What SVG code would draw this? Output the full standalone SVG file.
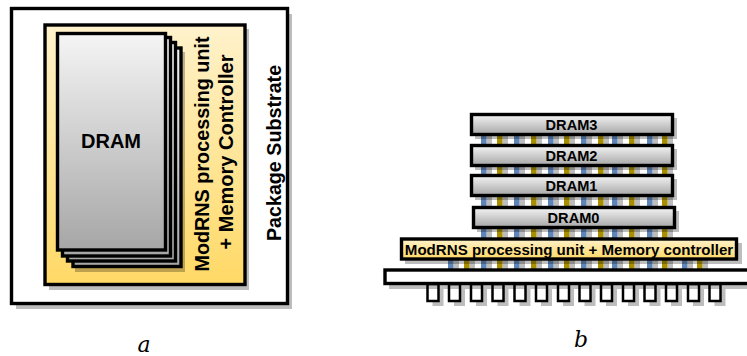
<svg xmlns="http://www.w3.org/2000/svg" width="747" height="356" viewBox="0 0 747 356">
<style>
.box{stroke:#000;stroke-width:3.4}
.s{fill:#000;fill-opacity:.26}
.gray{fill:url(#g)}
.yel{fill:url(#y)}
.w{fill:#fff}
.t{font-family:"Liberation Sans",Arial,sans-serif;font-weight:700;fill:#000;text-anchor:middle}
.m{font-family:"DejaVu Serif","Liberation Serif",serif;font-style:italic;font-size:22px;fill:#000;text-anchor:middle}
.bl{fill:#5f84b8}
.go{fill:#a88f00}
.pin{fill:#fff;stroke:#000;stroke-width:2.500}
</style>
<defs>
<linearGradient id="g" x1="0" y1="0" x2="0" y2="1"><stop offset="0" stop-color="#f5f5f5"/><stop offset="1" stop-color="#a6a6a6"/></linearGradient>
<linearGradient id="y" x1="0" y1="0" x2="0" y2="1"><stop offset="0" stop-color="#fff2cc"/><stop offset="1" stop-color="#ffd966"/></linearGradient>
<g id="p"><rect x="5.500" y="0" width="5.500" height="9" class="s"/><rect x="0" y="0" width="5.500" height="9"/></g>
<rect id="pin" x="0" y="0" width="11" height="17" class="pin"/>
</defs>
<g id="package-a">
<rect x="16" y="14" width="276" height="295" class="s"/>
<rect x="11.500" y="8.500" width="276" height="295" class="w box"/>
<text class="t" font-size="19.700" transform="translate(280.500,153) rotate(-90)">Package Substrate</text>
</g>
<g id="logic-a">
<rect x="49" y="29" width="200" height="261" class="s"/>
<rect x="45" y="25" width="200" height="259.500" class="yel box"/>
<text class="t" font-size="19.800" transform="translate(208.500,154) rotate(-90)">ModRNS processing unit</text>
<text class="t" font-size="20" transform="translate(233,152) rotate(-90)">+ Memory Controller</text>
</g>
<g id="dram-a">
<rect x="75" y="52" width="110" height="220" class="s"/>
<rect x="73" y="48" width="108" height="218.500" class="gray box"/>
<rect x="67.500" y="42.500" width="108" height="218.500" class="gray box"/>
<rect x="62.500" y="37.500" width="108" height="218.500" class="gray box"/>
<rect x="57.500" y="33.500" width="108" height="216.500" class="gray box"/>
<text class="t" font-size="20" x="111" y="148">DRAM</text>
</g>
<g id="connectors">
<use href="#p" x="481" y="136" class="bl"/><use href="#p" x="497" y="136" class="go"/><use href="#p" x="514" y="136" class="bl"/><use href="#p" x="531" y="136" class="go"/><use href="#p" x="548" y="136" class="bl"/><use href="#p" x="564" y="136" class="go"/><use href="#p" x="581" y="136" class="bl"/><use href="#p" x="598" y="136" class="go"/><use href="#p" x="612" y="136" class="bl"/><use href="#p" x="629" y="136" class="go"/><use href="#p" x="647" y="136" class="bl"/><use href="#p" x="662" y="136" class="go"/>
<use href="#p" x="481" y="166" class="bl"/><use href="#p" x="497" y="166" class="go"/><use href="#p" x="514" y="166" class="bl"/><use href="#p" x="531" y="166" class="go"/><use href="#p" x="548" y="166" class="bl"/><use href="#p" x="564" y="166" class="go"/><use href="#p" x="581" y="166" class="bl"/><use href="#p" x="598" y="166" class="go"/><use href="#p" x="612" y="166" class="bl"/><use href="#p" x="629" y="166" class="go"/><use href="#p" x="647" y="166" class="bl"/><use href="#p" x="662" y="166" class="go"/>
<use href="#p" x="481" y="197" class="bl"/><use href="#p" x="497" y="197" class="go"/><use href="#p" x="514" y="197" class="bl"/><use href="#p" x="531" y="197" class="go"/><use href="#p" x="548" y="197" class="bl"/><use href="#p" x="564" y="197" class="go"/><use href="#p" x="581" y="197" class="bl"/><use href="#p" x="598" y="197" class="go"/><use href="#p" x="612" y="197" class="bl"/><use href="#p" x="629" y="197" class="go"/><use href="#p" x="647" y="197" class="bl"/><use href="#p" x="662" y="197" class="go"/>
<use href="#p" x="481" y="229" class="bl"/><use href="#p" x="497" y="229" class="go"/><use href="#p" x="514" y="229" class="bl"/><use href="#p" x="531" y="229" class="go"/><use href="#p" x="548" y="229" class="bl"/><use href="#p" x="564" y="229" class="go"/><use href="#p" x="581" y="229" class="bl"/><use href="#p" x="598" y="229" class="go"/><use href="#p" x="612" y="229" class="bl"/><use href="#p" x="629" y="229" class="go"/><use href="#p" x="647" y="229" class="bl"/><use href="#p" x="662" y="229" class="go"/>
<use href="#p" x="448" y="260" class="bl"/><use href="#p" x="464" y="260" class="go"/><use href="#p" x="481" y="260" class="bl"/><use href="#p" x="497" y="260" class="go"/><use href="#p" x="514" y="260" class="bl"/><use href="#p" x="531" y="260" class="go"/><use href="#p" x="548" y="260" class="bl"/><use href="#p" x="564" y="260" class="go"/><use href="#p" x="581" y="260" class="bl"/><use href="#p" x="598" y="260" class="go"/><use href="#p" x="612" y="260" class="bl"/><use href="#p" x="629" y="260" class="go"/><use href="#p" x="647" y="260" class="bl"/><use href="#p" x="662" y="260" class="go"/><use href="#p" x="682" y="260" class="bl"/><use href="#p" x="697" y="260" class="go"/>
</g>
<g id="dram3"><rect x="475" y="118" width="202" height="21" class="s"/><rect x="471.500" y="114.500" width="201" height="20" class="gray box"/><text class="t" font-size="14.600" x="571.500" y="129.500">DRAM3</text></g>
<g id="dram2"><rect x="475" y="149" width="202" height="21" class="s"/><rect x="471.500" y="145.500" width="201" height="20" class="gray box"/><text class="t" font-size="14.600" x="571.500" y="160.500">DRAM2</text></g>
<g id="dram1"><rect x="475" y="179" width="202" height="21" class="s"/><rect x="471.500" y="175.500" width="201" height="20" class="gray box"/><text class="t" font-size="14.600" x="571.500" y="190.500">DRAM1</text></g>
<g id="dram0"><rect x="477" y="211" width="202" height="21" class="s"/><rect x="473.500" y="207.500" width="201" height="20" class="gray box"/><text class="t" font-size="14.600" x="573.500" y="222.500">DRAM0</text></g>
<g id="logic-b"><rect x="405" y="243" width="337" height="21" class="s"/><rect x="401.500" y="239" width="335" height="20" class="yel box"/><text class="t" font-size="15.100" x="569" y="254.500">ModRNS processing unit + Memory controller</text></g>
<g id="package-b">
<path class="s" d="M432.500 289h11v17h-11zM454 289h11v17h-11zM476 289h11v17h-11zM497.500 289h11v17h-11zM519.500 289h11v17h-11zM541 289h11v17h-11zM563 289h11v17h-11zM584.500 289h11v17h-11zM606 289h11v17h-11zM628 289h11v17h-11zM649.500 289h11v17h-11zM671 289h11v17h-11zM693 289h11v17h-11zM714.500 289h11v17h-11z"/>
<use href="#pin" x="427.500" y="284"/><use href="#pin" x="449" y="284"/><use href="#pin" x="471" y="284"/><use href="#pin" x="492.500" y="284"/><use href="#pin" x="514.500" y="284"/><use href="#pin" x="536" y="284"/><use href="#pin" x="558" y="284"/><use href="#pin" x="579.500" y="284"/><use href="#pin" x="601" y="284"/><use href="#pin" x="623" y="284"/><use href="#pin" x="644.500" y="284"/><use href="#pin" x="666" y="284"/><use href="#pin" x="688" y="284"/><use href="#pin" x="709.500" y="284"/>
<rect x="389" y="274" width="358" height="15" class="s"/>
<rect x="385" y="270" width="366" height="13.500" class="w box"/>
</g>
<text class="m" x="144" y="352">a</text>
<text class="m" x="581" y="347">b</text>
</svg>
